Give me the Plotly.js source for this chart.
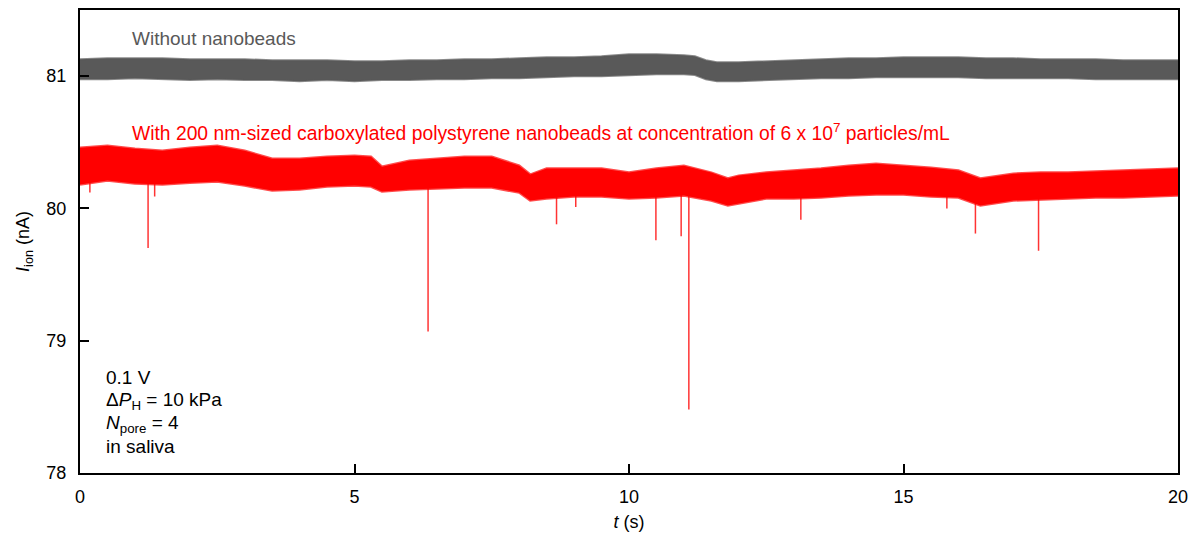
<!DOCTYPE html>
<html>
<head>
<meta charset="utf-8">
<script src="https://cdn.plot.ly/plotly-3.0.1.min.js"></script>
<style>html,body{margin:0;padding:0;background:#fff;}#chart{width:1195px;height:535px;}</style>
</head>
<body>
<div id="chart"></div>
<script>
// Without nanobeads: envelope of the noisy trace (nA)
const grayT  = [0,0.5,1,1.5,2,2.5,3,3.5,4,4.5,5,5.5,6,6.5,7,7.5,8,8.5,9,9.5,10,10.5,11,11.2,11.4,11.6,12,12.5,13,13.5,14,14.5,15,15.5,16,16.5,17,17.5,18,18.5,19,19.5,20];
const grayHi = [81.128,81.135,81.135,81.135,81.128,81.128,81.128,81.120,81.120,81.120,81.113,81.113,81.120,81.120,81.128,81.128,81.135,81.143,81.143,81.150,81.165,81.165,81.158,81.150,81.120,81.105,81.105,81.113,81.120,81.128,81.135,81.135,81.143,81.143,81.143,81.135,81.135,81.128,81.128,81.128,81.120,81.120,81.120];
const grayLo = [80.977,80.977,80.985,80.977,80.970,80.977,80.970,80.970,80.962,80.970,80.962,80.970,80.970,80.977,80.977,80.985,80.985,80.992,81.000,81.000,81.008,81.015,81.015,81.008,80.977,80.962,80.962,80.970,80.977,80.985,80.985,80.992,80.992,80.992,80.992,80.985,80.985,80.985,80.985,80.977,80.977,80.977,80.977];

// With nanobeads: envelope of the noisy trace (nA)
const redT  = [0,0.5,1,1.5,2,2.5,3,3.5,4,4.5,5,5.3,5.5,6,6.5,7,7.5,8,8.2,8.5,9,9.5,10,10.5,11,11.5,11.8,12,12.5,13,13.5,14,14.5,15,15.5,16,16.4,17,17.5,18,18.5,19,19.5,20];
const redHi = [80.459,80.474,80.451,80.436,80.459,80.474,80.436,80.376,80.376,80.391,80.398,80.391,80.316,80.361,80.376,80.391,80.391,80.323,80.256,80.301,80.301,80.301,80.271,80.301,80.323,80.271,80.226,80.248,80.271,80.286,80.301,80.323,80.338,80.323,80.308,80.286,80.226,80.263,80.271,80.271,80.278,80.286,80.293,80.301];
const redLo = [80.180,80.211,80.188,80.180,80.195,80.203,80.173,80.135,80.143,80.165,80.173,80.165,80.128,80.143,80.150,80.158,80.158,80.120,80.060,80.075,80.090,80.090,80.075,80.083,80.098,80.060,80.023,80.038,80.075,80.075,80.083,80.098,80.105,80.105,80.090,80.083,80.023,80.060,80.068,80.075,80.083,80.083,80.090,80.098];

// Translocation spikes (nA)
const spikeT    = [0.18,1.24,1.36,6.34,8.68,9.03,10.49,10.95,11.09,13.13,15.79,16.31,17.46];
const spikeBase = [80.30,80.30,80.30,80.27,80.20,80.20,80.20,80.20,80.20,80.20,80.20,80.15,80.20];
const spikeMin  = [80.12,79.70,80.09,79.07,79.88,80.01,79.76,79.79,78.48,79.915,80.00,79.81,79.68];

const xTicks = [0,5,10,15,20];
const yTicks = [78,79,80,81];

// Text block lines, bottom-left
const infoLines = ['0.1 V', 'Δ<i>P</i><sub>H</sub> = 10 kPa', '<i>N</i><sub>pore</sub> = 4', 'in saliva'];

const GRAY = '#595959', RED = '#ff0000';
const FONT = 'Liberation Sans, Arial, Helvetica, sans-serif';

const sx = [], sy = [];
spikeT.forEach((t,i)=>{ sx.push(t,t,null); sy.push(spikeBase[i], spikeMin[i], null); });

const traces = [
  {x: sx, y: sy, mode:'lines', line:{color:'rgba(255,0,0,0.8)', width:1.5}, hoverinfo:'skip', showlegend:false},
  {x: redT, y: redHi, mode:'lines', line:{color:'rgba(255,0,0,0.7)', width:2.5}, showlegend:false, hoverinfo:'skip'},
  {x: redT, y: redLo, mode:'lines', line:{color:'rgba(255,0,0,0.7)', width:2.5}, fill:'tonexty', fillcolor:RED, showlegend:false, hoverinfo:'skip'},
  {x: grayT, y: grayHi, mode:'lines', line:{color:'rgba(89,89,89,0.7)', width:2}, showlegend:false, hoverinfo:'skip'},
  {x: grayT, y: grayLo, mode:'lines', line:{color:'rgba(89,89,89,0.7)', width:2}, fill:'tonexty', fillcolor:GRAY, showlegend:false, hoverinfo:'skip'}
];

const axisCommon = {
  showgrid:false, zeroline:false, showline:true, linecolor:'#000', linewidth:2, mirror:true,
  ticks:'inside', ticklen:9, tickwidth:2, tickcolor:'#000',
  tickfont:{family:FONT, size:18, color:'#000'}
};

const infoY = [0.2073, 0.1555, 0.1058, 0.0562];
const infoAnn = infoLines.map((s,i)=>({xref:'paper', yref:'paper', x:0.0219, y:infoY[i], xanchor:'left', yanchor:'middle',
  showarrow:false, align:'left', text:s, font:{family:FONT, size:19, color:'#000'}}));

const layout = {
  width:1195, height:535,
  margin:{l:80, r:17, t:10, b:62},
  paper_bgcolor:'#fff', plot_bgcolor:'#fff',
  font:{family:FONT, size:18, color:'#000'},
  xaxis: Object.assign({}, axisCommon, {
    range:[0,20], tickvals:xTicks, ticktext:xTicks.map(String), ticklabelstandoff:6,
    title:{text:'<i>t</i> (s)', font:{family:FONT, size:18, color:'#000'}, standoff:10}
  }),
  yaxis: Object.assign({}, axisCommon, {
    range:[78,81.5], tickvals:yTicks, ticktext:yTicks.map(String), ticklabelstandoff:8,
    title:{text:'<i>I</i><sub>ion</sub> (nA)', font:{family:FONT, size:18, color:'#000'}, standoff:12}
  }),
  annotations:[
    {xref:'paper', yref:'paper', x:0.0455, y:0.9395, xanchor:'left', yanchor:'middle', showarrow:false,
     text:'Without nanobeads', font:{family:FONT, size:19, color:GRAY}},
    {xref:'paper', yref:'paper', x:0.0455, y:0.7365, xanchor:'left', yanchor:'middle', showarrow:false,
     text:'With 200 nm-sized carboxylated polystyrene nanobeads at concentration of 6 x 10<sup>7</sup> particles/mL',
     font:{family:FONT, size:19.3, color:RED}}
  ].concat(infoAnn)
};

Plotly.newPlot('chart', traces, layout, {displayModeBar:false, staticPlot:true});
</script>
</body>
</html>
